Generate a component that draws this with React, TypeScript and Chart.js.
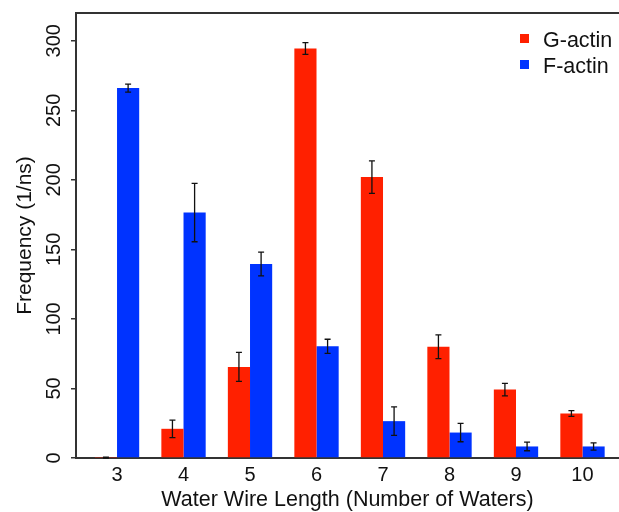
import React, { useEffect, useRef } from 'react';
import { Chart, registerables } from 'chart.js';

Chart.register(...registerables);

const categories = [3, 4, 5, 6, 7, 8, 9, 10];
const gActin = [0.3, 21, 65.5, 294.5, 202, 80, 49.2, 32];
const gActinErr = [0.3, 6.3, 10.4, 4.2, 11.7, 8.6, 4.5, 2];
const fActin = [266, 176.5, 139.5, 80.3, 26.5, 18.3, 8.3, 8.3];
const fActinErr = [2.9, 21, 8.6, 5.1, 10.3, 6.6, 3.1, 2.6];
const seriesNames = ['G-actin', 'F-actin'];
const seriesColors = ['#FF2000', '#0033FF'];
const yTickStep = 50;
const yMax = 320;
const xTitle = 'Water Wire Length (Number of Waters)';
const yTitle = 'Frequency (1/ns)';

const FONT = '"Liberation Sans", Arial, sans-serif';
const AXIS_COLOR = '#333333';

const errorBarsPlugin = {
  id: 'errorBars',
  afterDatasetsDraw(chart: any) {
    const { ctx } = chart;
    const yScale = chart.scales.y;
    const errs = [gActinErr, fActinErr];
    const vals = [gActin, fActin];
    chart.data.datasets.forEach((_ds: any, di: number) => {
      const meta = chart.getDatasetMeta(di);
      meta.data.forEach((bar: any, i: number) => {
        const v = vals[di][i];
        const e = errs[di][i];
        const x = bar.x;
        const yt = yScale.getPixelForValue(v + e);
        const yb = yScale.getPixelForValue(Math.max(0, v - e));
        ctx.save();
        ctx.strokeStyle = '#111111';
        ctx.lineWidth = 1.3;
        ctx.beginPath();
        ctx.moveTo(x, yt);
        ctx.lineTo(x, yb);
        ctx.moveTo(x - 3, yt);
        ctx.lineTo(x + 3, yt);
        ctx.moveTo(x - 3, yb);
        ctx.lineTo(x + 3, yb);
        ctx.stroke();
        ctx.restore();
      });
    });
  },
};

const frameLegendPlugin = {
  id: 'frameLegend',
  afterDraw(chart: any) {
    const { ctx, chartArea } = chart;
    ctx.save();
    ctx.strokeStyle = AXIS_COLOR;
    ctx.lineWidth = 2;
    ctx.beginPath();
    ctx.moveTo(chartArea.left - 1, chartArea.top);
    ctx.lineTo(chartArea.right, chartArea.top);
    ctx.stroke();
    // legend
    ctx.font = `21.5px ${FONT}`;
    ctx.textBaseline = 'alphabetic';
    ctx.textAlign = 'left';
    seriesNames.forEach((name, i) => {
      const cy = 38.5 + i * 26;
      ctx.fillStyle = seriesColors[i];
      ctx.fillRect(520, cy - 4.5, 9, 9);
      ctx.fillStyle = '#111111';
      ctx.fillText(name, 543, cy + 8);
    });
    ctx.restore();
  },
};

export default function App() {
  const canvasRef = useRef<HTMLCanvasElement | null>(null);

  useEffect(() => {
    if (!canvasRef.current) return;
    const chart = new Chart(canvasRef.current, {
      type: 'bar',
      data: {
        datasets: [
          {
            label: seriesNames[0],
            data: categories.map((c, i) => ({ x: c, y: gActin[i] })),
            backgroundColor: seriesColors[0],
            categoryPercentage: 2 / 3,
            barPercentage: 1,
          },
          {
            label: seriesNames[1],
            data: categories.map((c, i) => ({ x: c, y: fActin[i] })),
            backgroundColor: seriesColors[1],
            categoryPercentage: 2 / 3,
            barPercentage: 1,
          },
        ],
      },
      options: {
        responsive: false,
        animation: false,
        layout: { padding: { top: 13, right: 0, left: 0, bottom: 0 } },
        plugins: {
          legend: { display: false },
          tooltip: { enabled: false },
        },
        scales: {
          x: {
            type: 'linear',
            offset: false,
            min: 2.383,
            max: 10.549,
            afterFit: (s: any) => {
              s.height = 54;
            },
            grid: { display: false, drawTicks: false },
            border: { display: true, color: AXIS_COLOR, width: 2 },
            ticks: {
              stepSize: 1,
              includeBounds: false,
              autoSkip: false,
              maxRotation: 0,
              minRotation: 0,
              padding: 5,
              color: '#111111',
              font: { family: FONT, size: 20 },
              callback: (v: any) => String(v),
            },
            title: {
              display: true,
              text: xTitle,
              color: '#111111',
              font: { family: FONT, size: 21.5, lineHeight: 1 },
              padding: { top: 0, bottom: 1.5 },
            },
          },
          y: {
            type: 'linear',
            min: 0,
            max: yMax,
            afterFit: (s: any) => {
              s.width = 76;
            },
            grid: {
              display: true,
              drawOnChartArea: false,
              drawTicks: true,
              tickLength: 5,
              color: AXIS_COLOR,
              lineWidth: 1.5,
            },
            border: { display: true, color: AXIS_COLOR, width: 2 },
            ticks: {
              stepSize: yTickStep,
              includeBounds: false,
              autoSkip: false,
              minRotation: 90,
              maxRotation: 90,
              crossAlign: 'center',
              padding: 0,
              color: '#111111',
              font: { family: FONT, size: 20 },
            },
            title: {
              display: true,
              text: yTitle,
              color: '#111111',
              font: { family: FONT, size: 21, lineHeight: 1 },
              padding: { top: 15, bottom: 0 },
            },
          },
        },
      } as any,
      plugins: [errorBarsPlugin, frameLegendPlugin],
    });
    return () => chart.destroy();
  }, []);

  return (
    <div style={{ position: 'absolute', left: 0, top: 0, width: 619, height: 512, background: '#ffffff' }}>
      <canvas ref={canvasRef} width={619} height={512} style={{ display: 'block' }} />
    </div>
  );
}
